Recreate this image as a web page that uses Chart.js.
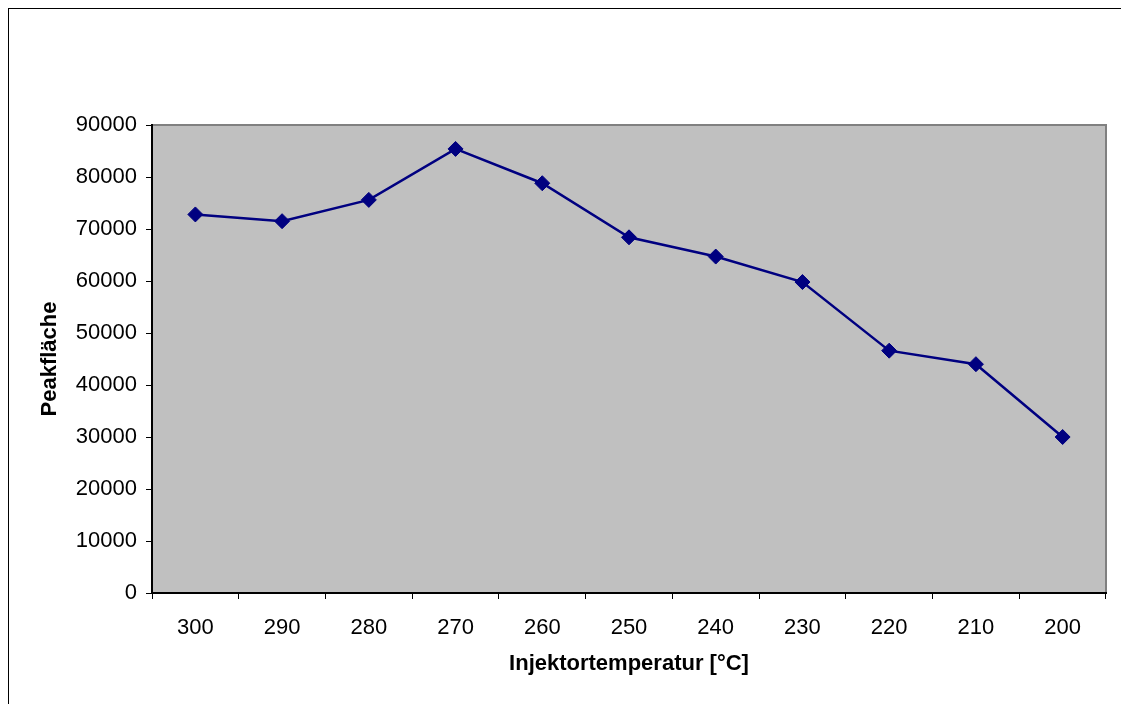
<!DOCTYPE html>
<html>
<head>
<meta charset="utf-8">
<style>
  html, body { margin: 0; padding: 0; background: #fff; }
  #wrap { width: 1121px; height: 704px; position: relative; }
</style>
<script src="https://cdn.jsdelivr.net/npm/chart.js@4/dist/chart.umd.min.js"></script>
</head>
<body>
<div id="wrap"><canvas id="peakChart" width="1121" height="704"></canvas></div>
<script>
// Daten aus dem Diagramm
const temperaturen = ['300', '290', '280', '270', '260', '250', '240', '230', '220', '210', '200'];
const peakflaechen = [72800, 71500, 75600, 85400, 78800, 68400, 64700, 59800, 46600, 44000, 30000];
const xTitel = 'Injektortemperatur [°C]';
const yTitel = 'Peakfläche';

const schrift = 'Liberation Sans, Arial, sans-serif';

// Hintergrund der Zeichenfläche und Rahmen
const plotHintergrund = {
    id: 'plotHintergrund',
    beforeDraw(chart) {
        const { ctx, chartArea: a } = chart;
        ctx.save();
        // Rahmen um das ganze Diagramm
        ctx.strokeStyle = '#000';
        ctx.lineWidth = 1;
        ctx.strokeRect(8.5, 8.5, 1120, 710);
        ctx.fillStyle = '#C0C0C0';
        ctx.fillRect(a.left, a.top, a.right - a.left, a.bottom - a.top);
        ctx.strokeStyle = '#808080';
        ctx.lineWidth = 2;
        ctx.beginPath();
        ctx.moveTo(a.left, a.top);
        ctx.lineTo(a.right, a.top);
        ctx.lineTo(a.right, a.bottom);
        ctx.stroke();
        ctx.restore();
    }
};

const ctx = document.getElementById('peakChart').getContext('2d');
new Chart(ctx, {
    type: 'line',
    data: {
        labels: temperaturen,
        datasets: [{
            label: yTitel,
            data: peakflaechen,
            borderColor: '#000080',
            backgroundColor: '#000080',
            borderWidth: 2.5,
            pointStyle: 'rectRot',
            pointRadius: 7.5,
            pointBorderWidth: 1,
            tension: 0,
            fill: false
        }]
    },
    options: {
        responsive: false,
        animation: false,
        layout: {
            padding: { top: 125, right: 15, left: 0, bottom: 0 }
        },
        plugins: {
            legend: { display: false },
            tooltip: { enabled: false }
        },
        scales: {
            x: {
                offset: true,
                afterFit: (s) => { s.height = 111; },
                border: { color: '#000', width: 2 },
                grid: {
                    offset: true,
                    drawOnChartArea: false,
                    drawTicks: true,
                    tickLength: 6,
                    tickColor: '#000',
                    tickWidth: 1
                },
                ticks: {
                    color: '#000',
                    padding: 16,
                    font: { family: schrift, size: 22 }
                },
                title: {
                    display: true,
                    text: xTitel,
                    color: '#000',
                    padding: { top: 0, bottom: 27 },
                    font: { family: schrift, size: 22, weight: 'bold' }
                }
            },
            y: {
                min: 0,
                max: 90000,
                afterFit: (s) => { s.width = 152; },
                border: { color: '#000', width: 2 },
                grid: {
                    drawOnChartArea: false,
                    drawTicks: true,
                    tickLength: 6,
                    tickColor: '#000',
                    tickWidth: 1
                },
                ticks: {
                    stepSize: 10000,
                    color: '#000',
                    padding: 9,
                    font: { family: schrift, size: 22 },
                    callback: (v) => String(v)
                },
                title: {
                    display: true,
                    text: yTitel,
                    color: '#000',
                    padding: { top: 37, bottom: 0 },
                    font: { family: schrift, size: 22, weight: 'bold' }
                }
            }
        }
    },
    plugins: [plotHintergrund]
});
</script>
</body>
</html>
